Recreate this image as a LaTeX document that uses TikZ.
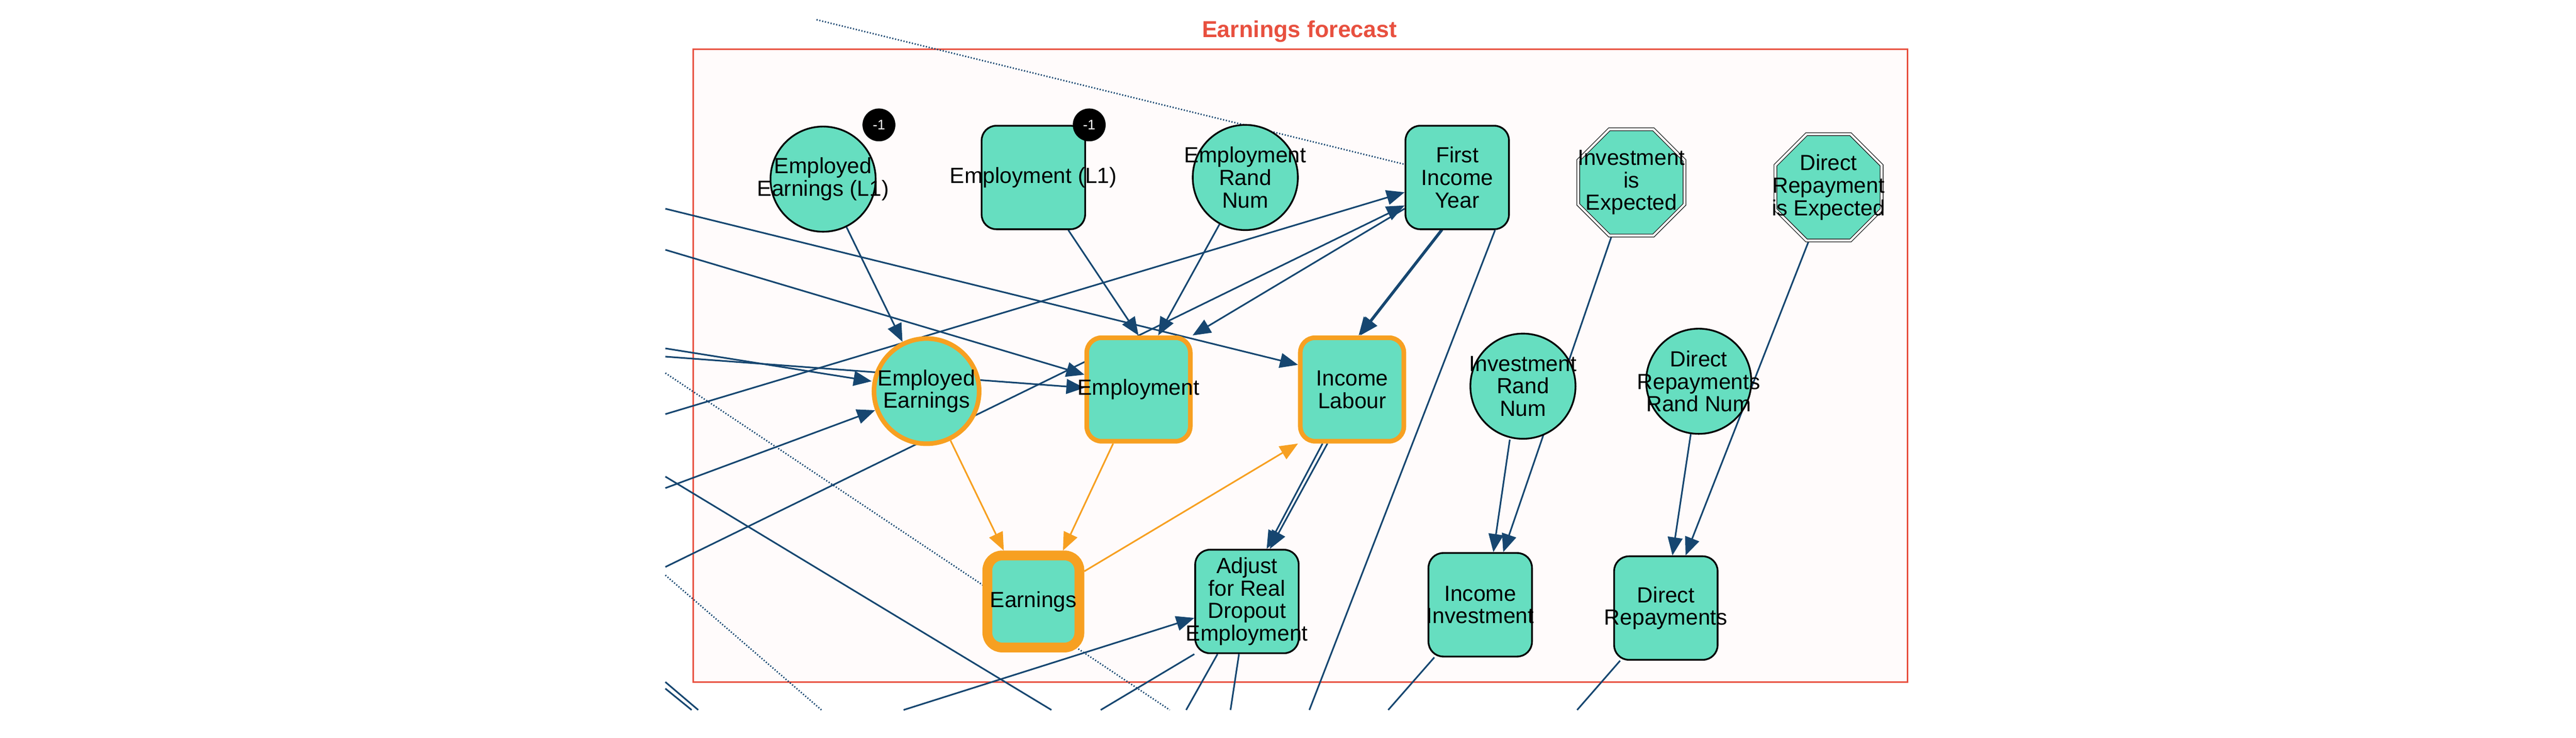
\documentclass[tikz,border=0pt]{standalone}
\usepackage{fontspec}
\setmainfont{Liberation Sans}
\usetikzlibrary{shapes.geometric,arrows.meta}
\definecolor{teal1}{RGB}{102,222,192}
\definecolor{edge}{RGB}{22,70,112}
\definecolor{orng}{RGB}{247,160,33}
\definecolor{frame}{RGB}{232,80,63}
\definecolor{bgp}{RGB}{255,251,251}
\pgfdeclarelayer{back}\pgfdeclarelayer{bg}
\pgfsetlayers{back,bg,main}
\begin{document}
\begin{tikzpicture}[x=1mm,y=-1mm,
  every node/.style={inner sep=0pt},
  txt/.style={font=\fontsize{38}{39}\selectfont,align=center},
  circ/.style={circle,draw=black,line width=3pt,fill=teal1,minimum size=64mm},
  rbox/.style={rectangle,rounded corners=9mm,draw=black,line width=3pt,fill=teal1,minimum width=63mm,minimum height=63mm},
  oct/.style={regular polygon,regular polygon sides=8,draw=black!85,double=white,double distance=1.3mm,line width=1.3pt,fill=teal1,minimum size=70mm},
  hi/.style={draw=orng,line width=8pt},
  badge/.style={circle,fill=black,text=white,minimum size=20mm,font=\fontsize{24}{24}\selectfont},
  ed/.style={draw=edge,line width=2.8pt,-{Triangle[length=11mm,width=9mm]}},
  ln/.style={draw=edge,line width=2.8pt},
  dl/.style={draw=edge,line width=2.6pt,dash pattern=on 2pt off 3pt},
  oe/.style={draw=orng,line width=2.8pt,-{Triangle[length=11mm,width=9mm]}}]
\useasboundingbox (0,0) rectangle (1568,449);
\begin{pgfonlayer}{back}
\fill[white] (0,0) rectangle (1568,449);
\draw[frame,line width=3pt,fill=bgp] (422,30) rectangle (1161,415);
\end{pgfonlayer}
\node[text=frame,font=\fontsize{40}{40}\selectfont\bfseries] (title) at (791,19) {Earnings forecast};
\coordinate (L1) at (405,127); \coordinate (L2) at (405,152);
\coordinate (L3) at (405,212); \coordinate (L4) at (405,217);
\coordinate (L5) at (405,252); \coordinate (L6) at (405,297);
\coordinate (L7) at (405,345); \coordinate (L8) at (405,290);
\coordinate (D1a) at (497,12); \coordinate (D2a) at (405,227); \coordinate (D2b) at (712,432);
\coordinate (D3a) at (405,350); \coordinate (D3b) at (500,432);
\coordinate (B1) at (640,432); \coordinate (B2) at (550,432); \coordinate (B3) at (670,432);
\coordinate (B4) at (722,432); \coordinate (B5) at (749,432); \coordinate (B6) at (797,432);
\coordinate (B7) at (845,432); \coordinate (B8) at (960,432);
\coordinate (T1) at (405,415); \coordinate (T2) at (425,432);
\coordinate (T3) at (405,419); \coordinate (T4) at (421,432);
% nodes
\node[circ] (eel1) at (501,109) {};
\node[rbox] (el1) at (629,108) {};
\node[circ] (ern) at (758,108) {};
\node[rbox] (fiy) at (887,108) {};
\node[oct] (iie) at (993,111) {};
\node[oct] (dre) at (1113,114) {};
\node[circ,hi] (ee) at (564,238) {};
\node[rbox,hi] (emp) at (693,237) {};
\node[rbox,hi] (il) at (823,237) {};
\node[circ] (irn) at (927,235) {};
\node[circ] (drrn) at (1034,232) {};
\node[rbox,draw=orng,line width=17pt,minimum width=56mm,minimum height=56mm] (earn) at (629,366) {};
\node[rbox] (adj) at (759,366) {};
\node[rbox] (ii) at (901,368) {};
\node[rbox] (dr) at (1014,370) {};
% texts
\node[txt] (t1) at (eel1) {Employed\\Earnings (L1)};
\node[txt] (t2) at (el1) {Employment (L1)};
\node[txt] (t3) at (ern) {Employment\\Rand\\Num};
\node[txt] (t4) at (fiy) {First\\Income\\Year};
\node[txt] (t5) at (iie) {Investment\\is\\Expected};
\node[txt] (t6) at (dre) {Direct\\Repayment\\is Expected};
\node[txt] (t7) at (ee) {Employed\\Earnings};
\node[txt] (t8) at (emp) {Employment};
\node[txt] (t9) at (il) {Income\\Labour};
\node[txt] (t10) at (irn) {Investment\\Rand\\Num};
\node[txt] (t11) at (drrn) {Direct\\Repayments\\Rand Num};
\node[txt] (t12) at (earn) {Earnings};
\node[txt] (t13) at (adj) {Adjust\\for Real\\Dropout\\Employment};
\node[txt] (t14) at (ii) {Income\\Investment};
\node[txt] (t15) at (dr) {Direct\\Repayments};
\node[badge] (b1) at (535,76) {-1};
\node[badge] (b2) at (663,76) {-1};
% connectors
\begin{pgfonlayer}{bg}
\path[dl] (D1a) -- (fiy.west |- 0,100);
\path[dl] (D2a) -- (D2b);
\path[dl] (D3a) -- (D3b);
\path[ln] (T1) -- (T2); \path[ln] (T3) -- (T4);
\path[ed] (eel1) -- (ee);
\path[ed] (el1) -- (emp.north);
\path[ed] (ern) -- ([xshift=12mm]emp.north);
\path[ed] (fiy) -- (emp.north east);
\path[ed] ([xshift=-9mm]fiy.south) -- ([xshift=5mm]il.north);
\path[ed] ([xshift=-10mm]fiy.south) -- ([xshift=4mm]il.north);
\path[ln] ([xshift=-9mm]fiy.south east) -- (B6);
\path[ed] (L1) -- (il.west |- 0,222);
\path[ed] (L2) -- (emp.west |- 0,228);
\path[ed] (L3) -- (ee.west |- 0,232);
\path[ed] (L4) -- (emp.west |- 0,236);
\path[ed] (L5) -- (fiy.west |- 0,117);
\path[ed] (L6) -- (ee);
\path[ed] (L7) -- (fiy.west |- 0,125);
\path[ln] (L8) -- (B1);
\path[oe] (ee) -- ([xshift=-18mm]earn.north);
\path[oe] (emp) -- ([xshift=18mm]earn.north);
\path[oe] (earn) -- (il.south west);
\path[ed] ([xshift=-15mm]il.south) -- ([xshift=14mm]adj.north);
\path[ed] ([xshift=-18mm]il.south) -- ([xshift=12mm]adj.north);
\path[ed] (B2) -- (adj.west |- 0,376);
\path[ln] (adj.south west) -- (B3);
\path[ln] (adj) -- (B4);
\path[ln] (adj) -- (B5);
\path[ed] ([xshift=-8mm]irn.south) -- ([xshift=8mm]ii.north);
\path[ed] ([xshift=-12mm]iie.south) -- ([xshift=14mm]ii.north);
\path[ed] (drrn) -- ([xshift=4mm]dr.north);
\path[ed] ([xshift=-12mm]dre.south) -- ([xshift=12mm]dr.north);
\path[ln] (ii) -- (B7);
\path[ln] (dr) -- (B8);
\end{pgfonlayer}
\end{tikzpicture}
\end{document}
